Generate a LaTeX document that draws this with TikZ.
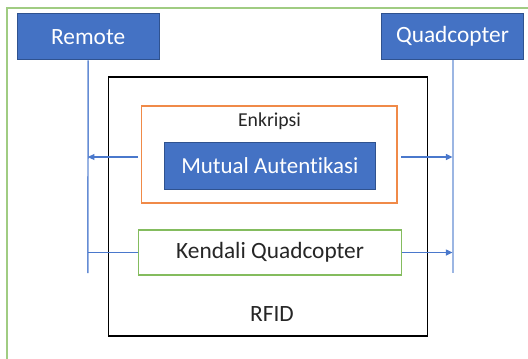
\documentclass[tikz,border=0pt]{standalone}
\usepackage{fontspec}
\setmainfont[Ligatures=NoCommon]{Carlito}
\usetikzlibrary{arrows.meta}
\definecolor{actorblue}{HTML}{4472C4}
\definecolor{actoredge}{HTML}{2F528F}
\definecolor{linkblue}{HTML}{4A78CC}
\definecolor{paleblue}{HTML}{9CB6E3}
\definecolor{encorange}{HTML}{F08A48}
\definecolor{ctrlgreen}{HTML}{84BC5E}
\definecolor{framegreen}{HTML}{A0CC82}
\tikzset{
  actor/.style={draw=actoredge, fill=actorblue, text=white, line width=0.8pt,
    font=\fontsize{17.5}{20}\selectfont, inner sep=0pt,
    minimum width=142*0.75pt, minimum height=46.5*0.75pt},
  bigtext/.style={font=\fontsize{17.5}{20}\selectfont},
  lifeline/.style={line width=1.1pt},
  link/.style={draw=linkblue, line width=1pt},
  linkarrow/.style={link, -{Triangle[length=5pt,width=4.5pt]}},
}
\begin{document}
\begin{tikzpicture}[x=0.75pt, y=-0.75pt]
  \useasboundingbox (0,0) rectangle (528,358);
  \fill[white] (0,0) rectangle (528,358);

  % outer frame, running off the right and bottom edges
  \begin{scope}
    \clip (0,0) rectangle (528,358);
    \draw[framegreen, line width=1.4pt] (7.4,370) -- (7.4,8.4) -- (540,8.4);
  \end{scope}

  % participants
  \node[actor] (remote) at (88.2,36.7) {Remote};
  \node[actor] (quad) at (452.5,36.7) {Quadcopter};

  % lifeline ends
  \coordinate (rbot) at (87.8,273);
  \coordinate (qbot) at (452.5,273);
  \draw[lifeline, draw=linkblue!85] (remote.south) -- (rbot);
  \draw[lifeline, draw=paleblue, line width=1.5pt] (quad.south) -- (qbot);

  % RFID channel
  \node[draw=black, line width=1.1pt, minimum width=319*0.75pt, minimum height=259*0.75pt,
        inner sep=0pt] (rfid) at (268.2,206.5) {};
  \node[bigtext, text=black!85] (rfidlabel) at (272,314) {RFID};

  % encryption block
  \node[draw=encorange, line width=0.9pt, minimum width=255.7*0.75pt, minimum height=97*0.75pt,
        inner sep=0pt] (enc) at (269.2,154.5) {};
  \node[font=\fontsize{14.8}{17}\selectfont, text=black!85] (enclabel) at (269.5,121) {Enkripsi};
  \node[draw=actoredge, fill=actorblue, text=white, line width=0.8pt,
        font=\fontsize{17.2}{20}\selectfont, inner sep=0pt,
        minimum width=211*0.75pt, minimum height=46.6*0.75pt] (mutual) at (269.8,166) {Mutual Autentikasi};

  % control block
  \node[draw=ctrlgreen, line width=0.9pt, bigtext, text=black!85, inner sep=0pt,
        minimum width=262.8*0.75pt, minimum height=45*0.75pt] (ctrl) at (270.1,252.5) {Kendali Quadcopter};

  % messages between the lifelines
  \coordinate (encL) at (138,157);
  \coordinate (encR) at (401,157);
  \draw[linkarrow] (encL) -- (rbot |- encL);
  \draw[linkarrow] (encR) -- (qbot |- encR);
  \draw[link] (ctrl.west) -- (rbot |- ctrl.west);
  \draw[linkarrow] (ctrl.east) -- (qbot |- ctrl.east);
\end{tikzpicture}
\end{document}
